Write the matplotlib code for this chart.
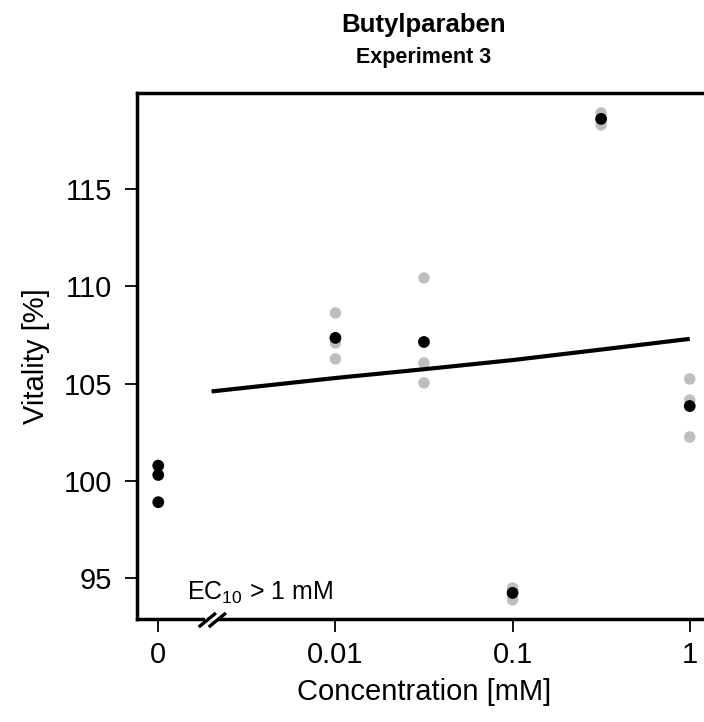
import numpy as np
import matplotlib
matplotlib.use("Agg")
import matplotlib.pyplot as plt

plt.rcParams['font.family'] = ['Liberation Sans', 'DejaVu Sans']
plt.rcParams['mathtext.fontset'] = 'custom'
plt.rcParams['mathtext.rm'] = 'Liberation Sans'
plt.rcParams['mathtext.it'] = 'Liberation Sans:italic'

# ---- data ----
title = "Butylparaben"
subtitle = "Experiment 3"
xlabel = "Concentration [mM]"
ylabel = "Vitality [%]"
annotation = r"EC$_{10}$ > 1 mM"

control_pos = 0.001          # where concentration 0 is drawn on the log axis
control_values = [100.79, 100.31, 98.91]

conc = [0.01, 0.0316, 0.1, 0.316, 1.0]
replicates = [
    [108.63, 107.09, 106.27],
    [110.43, 106.06, 105.04],
    [94.50, 94.36, 93.89],
    [118.90, 118.58, 118.29],
    [105.24, 104.16, 102.26],
]
means = [107.35, 107.14, 94.25, 118.60, 103.85]

fit_x = [0.002, 0.01, 0.0316, 0.1, 0.316, 1.0]
fit_y = [104.60, 105.29, 105.74, 106.21, 106.75, 107.30]

xticks = [0.001, 0.01, 0.1, 1]
xticklabels = ["0", "0.01", "0.1", "1"]
yticks = [95, 100, 105, 110, 115]
xlim = (10 ** -3.12, 10 ** 0.12)
ylim = (92.91, 119.93)

# ---- figure ----
W, H = 704, 722
fig = plt.figure(figsize=(W / 100, H / 100), dpi=100)
ax = fig.add_axes([137 / W, 103 / H, (711 - 137) / W, 526 / H])

ax.set_xscale('log')
ax.set_xlim(*xlim)
ax.set_ylim(*ylim)

grey = '#BEBEBE'
for c, reps in zip(conc, replicates):
    ax.scatter([c] * len(reps), reps, s=68, color=grey, edgecolors='none', zorder=2)
ax.scatter(conc, means, s=72, color='black', edgecolors='none', zorder=3)
ax.scatter([control_pos] * len(control_values), control_values, s=72,
           color='black', edgecolors='none', zorder=3)

ax.plot(fit_x, fit_y, color='black', lw=3.0, solid_capstyle='butt', zorder=4)

ax.set_xticks(xticks)
ax.set_xticklabels(xticklabels)
ax.xaxis.set_minor_locator(matplotlib.ticker.NullLocator())
ax.set_yticks(yticks)
ax.tick_params(axis='both', which='major', direction='out', length=9, width=1.3,
               labelsize=21)
ax.tick_params(axis='x', pad=7)
ax.tick_params(axis='y', pad=9)

for s in ax.spines.values():
    s.set_linewidth(2.5)

ax.set_xlabel(xlabel, fontsize=21, labelpad=6)
ax.set_ylabel(ylabel, fontsize=21, labelpad=10)

ax.text(10 ** -2.84, 93.9, annotation, fontsize=18, ha='left', va='baseline')

# axis break marks
trans = ax.transAxes
ax.plot([0.118, 0.141], [0.0, 0.0], color='white', lw=3.2, transform=trans,
        clip_on=False, zorder=6, solid_capstyle='butt')
for x0 in (0.1098, 0.1272):
    ax.plot([x0, x0 + 0.0255], [-0.0133, 0.0095], color='black', lw=2.4,
            transform=trans, clip_on=False, zorder=7)

cx = (137 + 711) / 2 / W
fig.text(cx, 1 - 25 / H, title, fontsize=18.5, fontweight='bold', ha='center', va='center')
fig.text(cx, 1 - 57 / H, subtitle, fontsize=15.5, fontweight='bold', ha='center', va='center')

fig.savefig("out.png", dpi=100)
